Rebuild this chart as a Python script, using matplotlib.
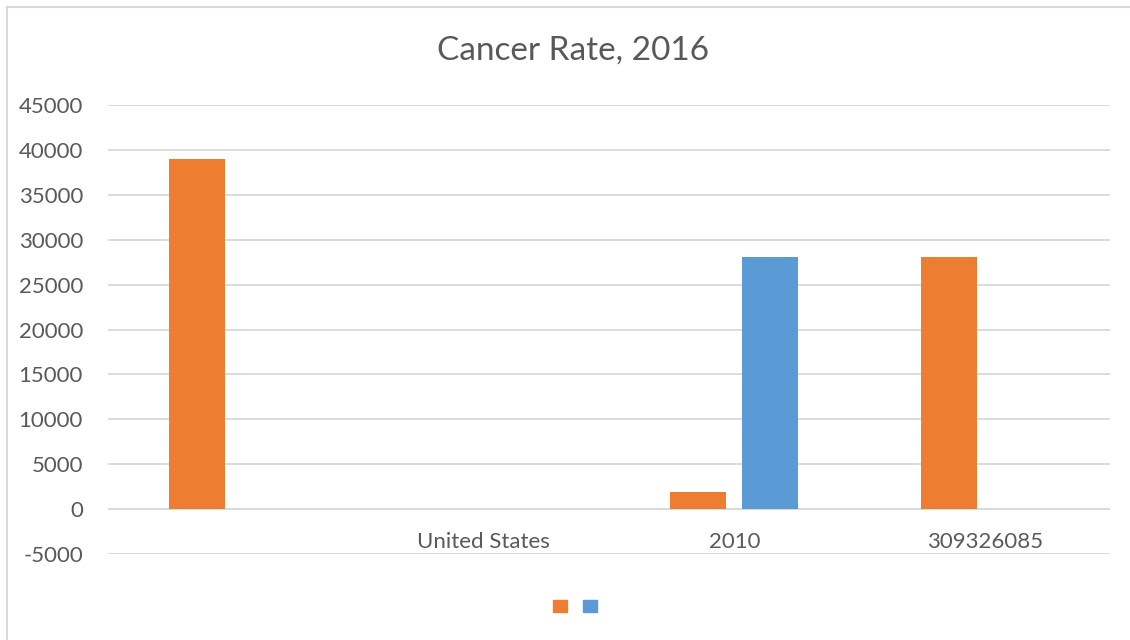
import matplotlib.pyplot as plt
from matplotlib.patches import Patch, Rectangle
import numpy as np

plt.rcParams['font.family'] = ['Lato', 'DejaVu Sans']

categories = ['', 'United States', '2010', '309326085']
series_a = [38950, 0, 1930, 28030]   # orange
series_b = [0, 0, 28030, 0]          # blue
y_ticks = [-5000, 0, 5000, 10000, 15000, 20000, 25000, 30000, 35000, 40000, 45000]

orange = '#ED7D31'
blue = '#5B9BD5'
grey_text = '#595959'
grid_col = '#D9D9D9'

fig = plt.figure(figsize=(11.3, 6.4), dpi=100)
ax = fig.add_axes([108 / 1130, 86 / 640, 1002 / 1130, 449 / 640])

x = np.arange(len(categories))
w = 0.224
off = 0.143
ax.bar(x - off, series_a, w, color=orange, zorder=3)
ax.bar(x + off, series_b, w, color=blue, zorder=3)

ax.set_xlim(-0.5, len(categories) - 0.5)
ax.set_ylim(-5000, 45000)
ax.set_yticks(y_ticks)
ax.set_yticklabels([str(v) for v in y_ticks])
ax.grid(axis='y', color=grid_col, linewidth=1.3, zorder=0)
ax.axhline(0, color=grid_col, linewidth=1.3, zorder=1)
for s in ax.spines.values():
    s.set_visible(False)

ax.set_xticks(x)
ax.set_xticklabels(categories)
ax.tick_params(axis='x', length=0, pad=-15.5, labelsize=16, labelcolor=grey_text)
ax.tick_params(axis='y', length=0, pad=18, labelsize=16, labelcolor=grey_text)

fig.text(573 / 1130, 1 - 51 / 640, 'Cancer Rate, 2016', ha='center', va='center',
         fontsize=24, color=grey_text)

handles = [Patch(color=orange), Patch(color=blue)]
fig.legend(handles, ['', ''], ncol=2, loc='center', bbox_to_anchor=(575 / 1130, 1 - 606 / 640),
           frameon=False, handlelength=1.0, handleheight=1.0, fontsize=10, columnspacing=1.1,
           handletextpad=0.0)

# chart area border
fig.patches.append(Rectangle((6.5 / 1130, -0.1), 1.2, 1 - 6.5 / 640 + 0.1, transform=fig.transFigure,
                             fill=False, edgecolor=grid_col, linewidth=1.5))

fig.savefig('out.png', dpi=100)
